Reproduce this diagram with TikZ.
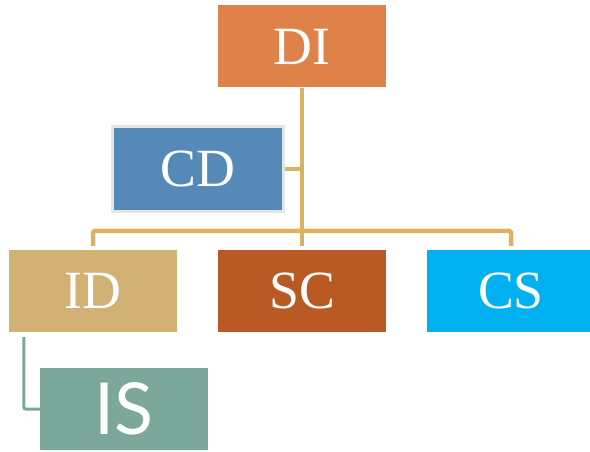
\documentclass[tikz,border=0pt]{standalone}
\usepackage{fontspec}
\newfontfamily\boxserif{Liberation Serif}
\newfontfamily\issans{Lato}
\usepackage{tikz}
\usetikzlibrary{calc}
\definecolor{diorange}{RGB}{222,130,73}
\definecolor{cdblue}{RGB}{85,138,184}
\definecolor{idtan}{RGB}{209,178,116}
\definecolor{scrust}{RGB}{185,90,36}
\definecolor{cscyan}{RGB}{0,176,240}
\definecolor{isgreen}{RGB}{123,168,154}
\definecolor{linkgold}{RGB}{217,179,95}
\tikzstyle{unitbox}=[rectangle,minimum width=168bp,minimum height=82bp,inner sep=0pt,text=white,font=\boxserif\fontsize{54}{58}\selectfont]
\tikzstyle{link} = [draw,line width=4.5bp,linkgold,rounded corners=1.5bp]
\tikzstyle{sublink} = [draw,line width=3bp,isgreen,rounded corners=2bp]

\begin{document}
\begin{tikzpicture}[x=1bp,y=-1bp]
    \useasboundingbox (0,0) rectangle (590,452);
    % the boxes of the chart
        \foreach \pos/\name/\col in {{(302,46.5)/DI/diorange}, {(93,291)/ID/idtan}, {(302,291)/SC/scrust}, {(511,291)/CS/cscyan}}
       	 	\node[unitbox, fill=\col] (\name) at \pos {\name};
    \node[unitbox, fill=cdblue, draw=black!10, line width=3bp, minimum width=171bp, minimum height=85bp] (CD) at (198,169) {CD};
    \node[unitbox, fill=isgreen, font=\issans\fontsize{72}{76}\selectfont] (IS) at (124,409) {IS};

    \coordinate (split) at (302,231);
    \path[link, shorten >=4bp] (DI.south) -- (SC.north);
    \foreach \dest in {ID, CS}
        \path[link, shorten >=4bp] (DI.south |- split) -| (\dest.north);
    \path[link] (CD.east) -- (CD.east -| DI.south);
    \path[sublink] ($(ID.south west)+(15,5)$) |- (IS.west);

   \end{tikzpicture}
\end{document}
